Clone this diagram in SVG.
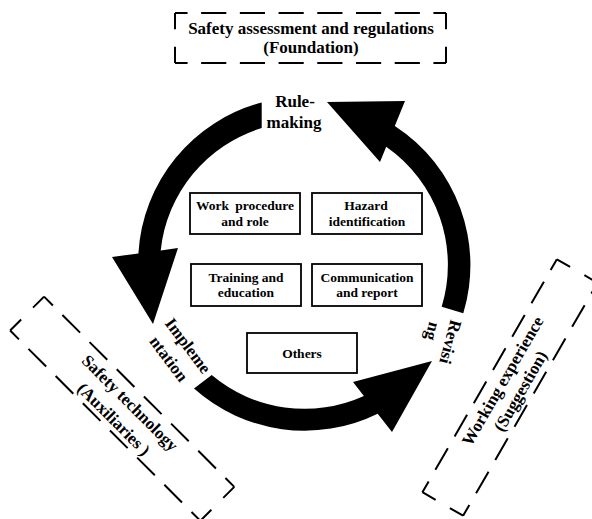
<svg xmlns="http://www.w3.org/2000/svg" width="592" height="519" viewBox="0 0 592 519">
<style>
.dash{fill:none;stroke:#000;stroke-width:2;stroke-dasharray:26 14;stroke-dashoffset:13}
.box{fill:#fff;stroke:#000;stroke-width:1.8}
.arrow{fill:#000;stroke:none}
text{font-family:"Liberation Serif","Times New Roman",serif;font-weight:bold;fill:#000;text-anchor:middle}
.t17{font-size:17px}
.t13{font-size:13.5px}
</style>
<rect width="592" height="519" fill="#fff"/>

<g id="connectors">
  <path class="arrow" d="M261.7,102.5 A166 166 0 0 0 138.4,253.4 L112,257 L153,324 L178,248 L160.7,250.4 A144 144 0 0 1 261.7,128 Z"/>
  <path class="arrow" d="M194,388.5 A166 166 0 0 0 377.7,413.7 L392,432 L432,361 L353,382 L363.9,396 A144 144 0 0 1 211.7,375 Z"/>
  <path class="arrow" d="M463.3,313.3 A166 166 0 0 0 394.8,126 L405,101 L327,102 L380,162 L386.2,146.8 A144 144 0 0 1 441.7,306.7 Z"/>
</g>

<g id="foundation">
  <path class="dash" d="M175,13 H446" pathLength="280"/>
  <path class="dash" d="M446,13 V63" pathLength="40"/>
  <path class="dash" d="M446,63 H175" pathLength="280"/>
  <path class="dash" d="M175,63 V13" pathLength="40"/>
  <text class="t17" x="311" y="34">Safety assessment and regulations</text>
  <text class="t17" x="311" y="53">(Foundation)</text>
</g>

<g id="auxiliaries" transform="translate(122.2,408.7) rotate(45)">
  <path class="dash" d="M-134.5,-24 H134.5" pathLength="280"/>
  <path class="dash" d="M134.5,-24 V24" pathLength="40"/>
  <path class="dash" d="M134.5,24 H-134.5" pathLength="280"/>
  <path class="dash" d="M-134.5,24 V-24" pathLength="40"/>
  <text class="t17" x="1.5" y="-4">Safety technology</text>
  <text class="t17" x="1.5" y="19">(Auxiliaries )</text>
</g>

<g id="suggestion" transform="translate(510,387.5) rotate(-60)">
  <path class="dash" d="M-134.5,-23.5 H134.5" pathLength="280"/>
  <path class="dash" d="M134.5,-23.5 V23.5" pathLength="40"/>
  <path class="dash" d="M134.5,23.5 H-134.5" pathLength="280"/>
  <path class="dash" d="M-134.5,23.5 V-23.5" pathLength="40"/>
  <text class="t17" x="2" y="-4">Working experience</text>
  <text class="t17" x="2" y="16.5">(Suggestion)</text>
</g>

<g id="rule-making">
  <text class="t17" x="295" y="107">Rule-</text>
  <text class="t17" x="294" y="128.3">making</text>
</g>

<g id="implementation">
  <text class="t17" transform="translate(183.5,349.1) rotate(53)">Impleme</text>
  <text class="t17" transform="translate(164.3,362.2) rotate(53)">ntation</text>
</g>

<g id="revising">
  <text class="t17" transform="translate(445,340.5) rotate(105)">Revisi</text>
  <text class="t17" transform="translate(427.1,330) rotate(105)">ng</text>
</g>

<g id="work-procedure">
  <rect class="box" x="190" y="193" width="110" height="41"/>
  <text class="t13" x="245" y="210" word-spacing="3">Work procedure</text>
  <text class="t13" x="245" y="225.7">and role</text>
</g>

<g id="hazard">
  <rect class="box" x="312" y="193" width="110" height="41"/>
  <text class="t13" x="366" y="210">Hazard</text>
  <text class="t13" x="367" y="225.7">identification</text>
</g>

<g id="training">
  <rect class="box" x="191" y="264" width="110" height="42"/>
  <text class="t13" x="246" y="281.7">Training and</text>
  <text class="t13" x="246" y="297.3">education</text>
</g>

<g id="communication">
  <rect class="box" x="312" y="264" width="110" height="42"/>
  <text class="t13" x="367" y="281.7">Communication</text>
  <text class="t13" x="367" y="297">and report</text>
</g>

<g id="others">
  <rect class="box" x="247" y="333" width="110" height="40"/>
  <text class="t13" x="302" y="358.3">Others</text>
</g>
</svg>
